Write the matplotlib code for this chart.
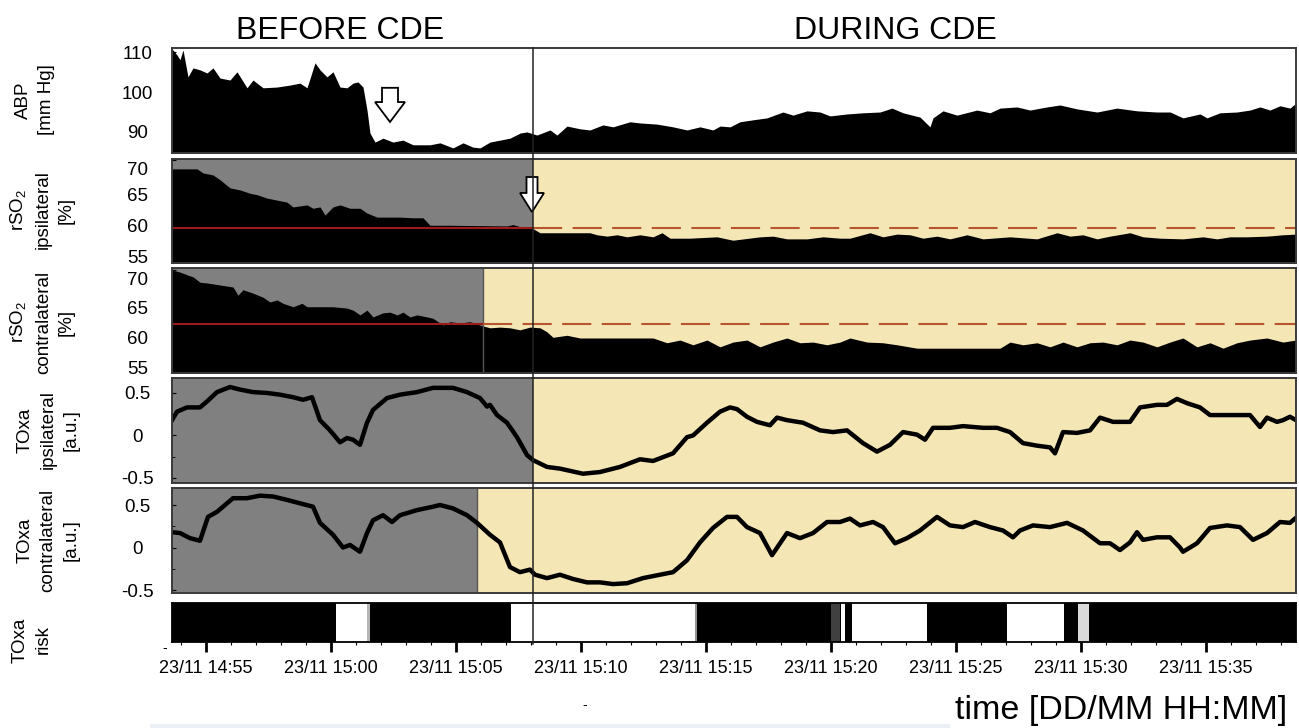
import numpy as np
import matplotlib.pyplot as plt
import matplotlib.transforms as mtransforms
from matplotlib.patches import FancyArrow, Rectangle
from matplotlib.lines import Line2D
from matplotlib.ticker import MultipleLocator

plt.rcParams['font.family'] = ['Liberation Sans', 'DejaVu Sans']
plt.rcParams['mathtext.fontset'] = 'custom'
plt.rcParams['mathtext.rm'] = 'Liberation Sans'

# time in minutes after 23/11 14:50
tick_minutes = [5, 10, 15, 20, 25, 30, 35, 40, 45]
tick_labels = ['23/11 14:55', '23/11 15:00', '23/11 15:05', '23/11 15:10', '23/11 15:15',
               '23/11 15:20', '23/11 15:25', '23/11 15:30', '23/11 15:35']
t_start, t_end = 3.65, 48.61
cde_start = 18.09          # clamping starts (ipsilateral side)
rso2_contra_switch = 16.08
toxa_contra_switch = 15.86

# ABP [mm Hg]
abp_t = [3.65, 3.85, 3.97, 4.09, 4.29, 4.49, 4.77, 5.05, 5.29, 5.57, 5.97, 6.25, 6.65, 6.89, 7.29,
         7.85, 8.37, 8.77, 9.05, 9.37, 9.57, 9.85, 10.09, 10.37, 10.65, 10.89, 11.09, 11.29, 11.45,
         11.57, 11.77, 12.09, 12.49, 12.89, 13.29, 13.97, 14.37, 14.89, 15.29, 15.69, 15.97, 16.37,
         16.77, 17.17, 17.57, 17.85, 18.25, 18.77, 19.05, 19.45, 19.97, 20.37, 20.89, 21.29, 21.97,
         22.37, 23.05, 23.69, 24.25, 24.77, 25.29, 25.57, 25.97, 26.37, 26.89, 27.45, 28.09, 28.49,
         29.05, 29.57, 29.97, 30.65, 31.29, 31.97, 32.45, 32.89, 33.57, 33.97, 34.09, 34.49, 35.05,
         35.85, 36.37, 36.77, 37.45, 37.97, 38.65, 39.17, 39.85, 40.65, 41.45, 42.25, 43.05, 43.57,
         44.09, 44.77, 45.05, 45.57, 46.25, 46.77, 47.17, 47.57, 47.97, 48.37, 48.61]
abp_v = [110.8, 109.2, 108.0, 110.5, 103.6, 105.9, 105.4, 104.6, 105.9, 103.3, 102.8, 104.9, 100.8,
         102.8, 100.8, 101.0, 101.5, 102.0, 100.8, 107.2, 105.4, 103.6, 104.9, 101.0, 100.8, 102.0,
         102.3, 101.0, 95.1, 89.2, 86.9, 87.9, 86.9, 87.4, 86.2, 86.2, 86.7, 85.4, 86.7, 85.6, 85.4,
         86.9, 87.4, 87.9, 89.2, 89.5, 88.7, 90.0, 88.7, 91.0, 90.3, 90.0, 91.3, 90.8, 92.1, 91.8,
         91.5, 90.8, 90.0, 90.8, 90.0, 91.0, 90.8, 92.1, 92.6, 93.1, 94.6, 93.8, 94.9, 94.6, 93.6,
         94.1, 94.4, 94.6, 95.6, 94.4, 93.3, 90.8, 93.1, 94.9, 93.8, 95.1, 94.4, 95.6, 95.9, 95.1,
         95.9, 96.4, 95.4, 94.6, 95.6, 94.9, 94.6, 94.6, 93.1, 94.1, 93.1, 94.4, 94.6, 95.1, 95.9,
         95.1, 96.2, 95.6, 96.9]

# rSO2 ipsilateral [%]
rso2_ipsi_t = [3.65, 4.65, 4.89, 5.29, 5.57, 5.97, 6.37, 6.77, 7.05, 7.45, 7.85, 8.25, 8.49, 9.05,
               9.29, 9.57, 9.77, 10.09, 10.37, 10.77, 11.17, 11.45, 11.85, 12.77, 13.29, 13.69,
               13.97, 14.77, 17.05, 17.29, 17.57, 17.85, 18.09, 18.37, 20.37, 20.65, 21.05, 21.45,
               21.85, 22.37, 22.89, 23.25, 23.57, 24.37, 25.45, 26.09, 27.17, 27.69, 28.25, 29.05,
               29.69, 30.37, 30.77, 31.57, 32.09, 32.65, 33.17, 33.69, 34.25, 34.77, 35.45, 36.09,
               37.17, 38.25, 39.05, 39.57, 40.09, 40.65, 41.17, 41.97, 42.49, 43.17, 44.09, 44.89,
               45.45, 45.97, 46.65, 47.45, 48.09, 48.61]
rso2_ipsi_v = [68.7, 68.7, 68.1, 67.8, 67.1, 65.9, 65.6, 65.1, 64.9, 64.4, 64.1, 63.8, 63.1, 63.4,
               62.9, 63.1, 61.9, 63.1, 63.4, 62.9, 62.9, 62.2, 61.6, 61.6, 61.5, 61.5, 60.4, 60.4,
               60.3, 60.5, 60.2, 60.1, 59.9, 59.3, 59.3, 59.0, 58.8, 59.0, 58.7, 59.0, 58.7, 59.3,
               58.5, 58.5, 58.7, 58.2, 58.7, 58.8, 58.4, 58.4, 58.7, 58.5, 58.5, 59.3, 58.7, 59.1,
               59.0, 58.5, 58.8, 58.4, 59.0, 58.4, 58.7, 58.4, 59.3, 58.8, 59.0, 58.4, 58.8, 59.3,
               58.7, 58.5, 58.4, 58.7, 58.4, 58.7, 58.7, 58.8, 59.0, 59.1]
rso2_ipsi_threshold = 60

# rSO2 contralateral [%]
rso2_contra_t = [3.65, 3.97, 4.25, 4.49, 4.77, 5.05, 5.57, 6.09, 6.29, 6.49, 6.89, 7.29, 7.57, 7.85,
                 8.09, 8.49, 8.85, 9.05, 10.09, 10.65, 10.89, 11.17, 11.45, 11.69, 12.09, 12.37,
                 12.65, 12.89, 13.17, 13.45, 13.85, 14.09, 14.49, 14.77, 15.17, 15.57, 15.97, 16.37,
                 16.77, 17.17, 17.57, 17.97, 18.37, 18.65, 18.89, 19.45, 19.97, 22.89, 23.45, 23.97,
                 24.49, 25.05, 25.57, 26.09, 26.65, 27.17, 27.69, 28.25, 28.77, 29.29, 29.85, 30.37,
                 30.77, 31.45, 32.09, 32.65, 33.45, 36.77, 37.17, 37.69, 38.25, 38.77, 39.29, 39.85,
                 40.37, 40.89, 41.45, 41.97, 42.49, 43.05, 43.57, 44.09, 44.65, 45.17, 45.69, 46.25,
                 46.77, 47.45, 48.09, 48.61]
rso2_contra_v = [70.0, 69.7, 69.3, 69.0, 68.2, 68.1, 67.8, 67.5, 66.3, 67.1, 66.6, 66.0, 65.3, 65.6,
                 65.1, 64.6, 65.1, 64.6, 64.6, 64.4, 64.1, 63.4, 64.1, 63.1, 63.7, 63.8, 63.4, 63.8,
                 63.1, 63.4, 63.1, 62.9, 61.9, 62.4, 62.2, 62.4, 61.9, 61.5, 61.6, 61.5, 61.2, 61.6,
                 61.5, 60.9, 60.1, 60.4, 60.0, 60.0, 59.3, 59.7, 59.0, 59.7, 58.7, 59.4, 59.7, 58.7,
                 59.4, 60.0, 59.3, 59.4, 59.0, 59.4, 60.0, 59.4, 59.3, 59.0, 58.5, 58.5, 59.4, 59.0,
                 59.3, 58.7, 59.4, 58.7, 59.3, 59.4, 59.0, 59.7, 59.4, 58.7, 59.4, 60.0, 58.7, 59.3,
                 58.5, 59.3, 59.7, 60.0, 59.4, 59.7]
rso2_contra_threshold = 62

# TOxa ipsilateral [a.u.]
toxa_ipsi_t = [3.65, 3.85, 4.25, 4.77, 5.05, 5.45, 5.97, 6.37, 6.89, 7.45, 7.97, 8.49, 8.89, 9.25,
               9.57, 9.97, 10.37, 10.65, 10.89, 11.17, 11.45, 11.69, 12.25, 12.77, 13.45, 14.09,
               14.89, 15.45, 15.97, 16.25, 16.37, 16.65, 17.05, 17.45, 17.85, 18.09, 18.65, 19.17,
               20.09, 20.77, 21.57, 22.37, 22.89, 23.69, 24.25, 24.49, 25.05, 25.57, 25.97, 26.25,
               26.65, 27.05, 27.57, 27.85, 28.25, 28.89, 29.57, 30.09, 30.65, 31.29, 31.85, 32.37,
               32.89, 33.45, 33.77, 34.09, 34.77, 35.29, 36.09, 36.65, 37.17, 37.69, 38.25, 38.77,
               38.97, 39.29, 39.85, 40.37, 40.77, 41.29, 41.97, 42.37, 43.05, 43.45, 43.85, 44.25,
               44.77, 45.17, 45.85, 46.77, 47.17, 47.45, 47.85, 48.09, 48.37, 48.61]
toxa_ipsi_v = [0.18, 0.28, 0.33, 0.33, 0.40, 0.51, 0.57, 0.54, 0.51, 0.50, 0.48, 0.45, 0.42, 0.45,
               0.18, 0.06, -0.08, -0.03, -0.05, -0.11, 0.15, 0.30, 0.44, 0.48, 0.51, 0.56, 0.56,
               0.51, 0.44, 0.34, 0.36, 0.24, 0.15, -0.02, -0.23, -0.29, -0.37, -0.39, -0.45, -0.43,
               -0.37, -0.28, -0.30, -0.21, -0.02, 0.00, 0.15, 0.28, 0.33, 0.31, 0.22, 0.16, 0.12,
               0.21, 0.18, 0.15, 0.06, 0.04, 0.06, -0.09, -0.19, -0.11, 0.04, 0.01, -0.05, 0.09,
               0.09, 0.11, 0.09, 0.09, 0.04, -0.09, -0.12, -0.14, -0.21, 0.04, 0.03, 0.06, 0.21,
               0.16, 0.16, 0.33, 0.36, 0.36, 0.43, 0.38, 0.33, 0.24, 0.24, 0.24, 0.10, 0.21, 0.16,
               0.18, 0.22, 0.18]

# TOxa contralateral [a.u.]
toxa_contra_t = [3.65, 3.97, 4.37, 4.77, 5.09, 5.45, 5.85, 6.09, 6.65, 7.17, 7.69, 8.25, 8.77, 9.29,
                 9.57, 10.09, 10.49, 10.77, 11.17, 11.45, 11.69, 12.09, 12.45, 12.77, 13.45, 14.09,
                 14.37, 14.89, 15.45, 15.85, 16.37, 16.77, 17.17, 17.57, 17.97, 18.17, 18.65, 19.17,
                 19.69, 20.25, 20.77, 21.29, 21.85, 22.49, 23.17, 23.69, 24.25, 24.77, 25.29, 25.85,
                 26.25, 26.65, 27.17, 27.65, 28.25, 28.77, 29.29, 29.85, 30.37, 30.77, 31.17, 31.69,
                 32.09, 32.57, 33.05, 33.57, 34.25, 34.77, 35.29, 35.77, 36.37, 36.89, 37.29, 37.57,
                 38.09, 38.77, 39.45, 40.09, 40.77, 41.17, 41.57, 41.97, 42.25, 42.49, 43.05, 43.57,
                 43.97, 44.09, 44.65, 45.17, 45.85, 46.37, 46.89, 47.45, 47.97, 48.37, 48.61]
toxa_contra_v = [0.18, 0.17, 0.11, 0.08, 0.36, 0.42, 0.52, 0.58, 0.58, 0.61, 0.60, 0.56, 0.52, 0.48,
                 0.29, 0.15, 0.00, 0.03, -0.05, 0.17, 0.32, 0.38, 0.30, 0.38, 0.44, 0.48, 0.50,
                 0.46, 0.38, 0.29, 0.15, 0.06, -0.23, -0.29, -0.26, -0.32, -0.36, -0.32, -0.37,
                 -0.41, -0.41, -0.43, -0.42, -0.36, -0.32, -0.29, -0.15, 0.06, 0.23, 0.36, 0.36,
                 0.24, 0.17, -0.09, 0.17, 0.11, 0.17, 0.30, 0.30, 0.34, 0.26, 0.30, 0.24, 0.05, 0.11,
                 0.20, 0.36, 0.26, 0.24, 0.30, 0.24, 0.20, 0.12, 0.20, 0.26, 0.24, 0.29, 0.20, 0.05,
                 0.05, -0.03, 0.06, 0.18, 0.09, 0.12, 0.12, 0.00, -0.05, 0.05, 0.23, 0.26, 0.24, 0.09,
                 0.17, 0.30, 0.29, 0.35]

# TOxa risk band: segment edges and risk level (1 = black, 0 = white)
risk_edges = [3.65, 10.2, 11.45, 11.57, 17.2, 24.57, 24.65, 30.0, 30.37, 30.4, 30.57, 30.85,
              33.85, 37.05, 39.33, 39.9, 40.33, 48.61]
risk_level = [1, 0, 0.4, 1, 0, 0.5, 1, 0.8, 1, 0, 1, 0, 1, 0, 1, 0.25, 1]

GREY = '#808080'
YELLOW = '#f5e7b5'
W, H = 1299, 728


def box(top, bottom):
    return [172 / W, 1 - bottom / H, 1124 / W, (bottom - top) / H]


def style(ax, ylim, yticks, yticklabels, minor=None, nudge=None):
    ax.set_xlim(t_start, t_end)
    ax.set_ylim(*ylim)
    ax.set_yticks(yticks)
    ax.set_yticklabels(yticklabels)
    if minor:
        ax.yaxis.set_minor_locator(MultipleLocator(minor))
    ax.tick_params(axis='y', which='major', direction='in', length=3, pad=25, labelsize=13.5)
    ax.tick_params(axis='y', which='minor', direction='in', length=2)
    for i, lbl in enumerate(ax.get_yticklabels()):
        lbl.set_ha('center')
        if nudge and nudge[i]:
            # the source figure prints some labels a few pixels off their tick
            lbl.set_transform(lbl.get_transform() +
                              mtransforms.ScaledTranslation(0, -nudge[i] / 100, fig.dpi_scale_trans))
    ax.set_xticks([])
    for s in ax.spines.values():
        s.set_color('#3a3a3a')
        s.set_linewidth(1.4)


fig = plt.figure(figsize=(12.99, 7.28), dpi=100)

# ABP
ax = fig.add_axes(box(48, 153))
ax.fill_between(abp_t, abp_v, 80, color='black', lw=0)
style(ax, (84.1, 111.0), [90, 100, 110], ['90', '100', '110'], nudge=[2, 2, 1])
ax.add_patch(FancyArrow(12.37, 100.8, 0, -8.75, width=0.64, head_width=1.2, head_length=5.1,
                        length_includes_head=True, fc='white', ec='black', lw=1.3, zorder=5))
ax_abp = ax

# rSO2 ipsilateral
ax = fig.add_axes(box(159, 263))
ax.axvspan(t_start, cde_start, color=GREY, lw=0)
ax.axvspan(cde_start, t_end, color=YELLOW, lw=0)
ax.fill_between(rso2_ipsi_t, rso2_ipsi_v, 50, color='black', lw=0)
ax.plot([t_start, cde_start], [rso2_ipsi_threshold] * 2, color='#9b1b1b', lw=1.5)
ax.plot([cde_start, t_end], [rso2_ipsi_threshold] * 2, color='#b5562e', lw=1.5, ls=(0, (14, 5)))
style(ax, (54.85, 70.15), [55, 60, 65, 70], ['55', '60', '65', '70'], nudge=[-5, -2, 0, 8])
ax.add_patch(FancyArrow(18.05, 67.5, 0, -5.15, width=0.44, head_width=0.96, head_length=2.8,
                        length_includes_head=True, fc='white', ec='black', lw=1.3, zorder=5))

# rSO2 contralateral
ax = fig.add_axes(box(268, 373))
ax.axvspan(t_start, rso2_contra_switch, color=GREY, lw=0)
ax.axvspan(rso2_contra_switch, t_end, color=YELLOW, lw=0)
ax.axvline(rso2_contra_switch, color='#555555', lw=1)
ax.fill_between(rso2_contra_t, rso2_contra_v, 50, color='black', lw=0)
ax.plot([t_start, rso2_contra_switch], [rso2_contra_threshold] * 2, color='#9b1b1b', lw=1.5)
ax.plot([rso2_contra_switch, t_end], [rso2_contra_threshold] * 2, color='#b5562e', lw=1.5,
        ls=(0, (14, 5)))
style(ax, (54.85, 70.3), [55, 60, 65, 70], ['55', '60', '65', '70'], nudge=[-4, 0, 3, 8])

# TOxa ipsilateral
ax = fig.add_axes(box(378, 483))
ax.axvspan(t_start, cde_start, color=GREY, lw=0)
ax.axvspan(cde_start, t_end, color=YELLOW, lw=0)
ax.plot(toxa_ipsi_t, toxa_ipsi_v, color='black', lw=3.2, solid_joinstyle='round')
style(ax, (-0.559, 0.676), [-0.5, 0, 0.5], ['-0.5', '0', '0.5'], minor=0.25)

# TOxa contralateral
ax = fig.add_axes(box(488, 593))
ax.axvspan(t_start, toxa_contra_switch, color=GREY, lw=0)
ax.axvspan(toxa_contra_switch, t_end, color=YELLOW, lw=0)
ax.axvline(toxa_contra_switch, color='#555555', lw=1)
ax.plot(toxa_contra_t, toxa_contra_v, color='black', lw=3.2, solid_joinstyle='round')
style(ax, (-0.535, 0.70), [-0.5, 0, 0.5], ['-0.5', '0', '0.5'], minor=0.25)

# TOxa risk band
ax = fig.add_axes(box(603, 642))
ax.pcolormesh(risk_edges, [0, 1], [risk_level], cmap='Greys', vmin=0, vmax=1, shading='flat')
ax.set_xlim(t_start, t_end)
ax.set_ylim(0, 1)
ax.set_yticks([])
ax.set_xticks(tick_minutes)
ax.set_xticklabels(tick_labels)
ax.xaxis.set_minor_locator(MultipleLocator(1))
ax.tick_params(axis='x', which='major', direction='out', length=7, width=2, pad=6, labelsize=13)
ax.tick_params(axis='x', which='minor', direction='out', length=2.5, width=0.8)
for s in ax.spines.values():
    s.set_color('black')
    s.set_linewidth(1.3)

# start of CDE marker through all panels
trans = mtransforms.blended_transform_factory(ax_abp.transData, fig.transFigure)
fig.add_artist(Line2D([cde_start, cde_start], [1 - 48 / H, 1 - 644 / H], transform=trans,
                      color='#222222', lw=1.1, zorder=10))

# headings and labels
fig.text(340 / W, 1 - 31 / H, 'BEFORE CDE', ha='center', va='center', fontsize=23)
fig.text(895 / W, 1 - 31 / H, 'DURING CDE', ha='center', va='center', fontsize=23)
fig.text(1287 / W, 1 - 710 / H, 'time [DD/MM HH:MM]', ha='right', va='center', fontsize=24.5)

ylab = dict(rotation=90, ha='center', va='center', multialignment='center', fontsize=13.5,
            linespacing=1.45)
fig.text(35 / W, 1 - 100 / H, 'ABP\n[mm Hg]', **ylab)
fig.text(42 / W, 1 - 210 / H, 'rSO$_2$\nipsilateral\n[%]', **ylab)
fig.text(42 / W, 1 - 322 / H, 'rSO$_2$\ncontralateral\n[%]', **ylab)
fig.text(48 / W, 1 - 430 / H, 'TOxa\nipsilateral\n[a.u.]', **ylab)
fig.text(48 / W, 1 - 540 / H, 'TOxa\ncontralateral\n[a.u.]', **ylab)
fig.text(32 / W, 1 - 640 / H, 'TOxa\nrisk', **ylab)
fig.text(165 / W, 1 - 648 / H, '-', ha='center', va='center', fontsize=10)
fig.text(585 / W, 1 - 705 / H, '-', ha='center', va='center', fontsize=10)
fig.add_artist(Rectangle((150 / W, 0), 800 / W, 4 / H, transform=fig.transFigure,
                         color='#eaeff5', lw=0))

fig.savefig('out.png', dpi=100)
